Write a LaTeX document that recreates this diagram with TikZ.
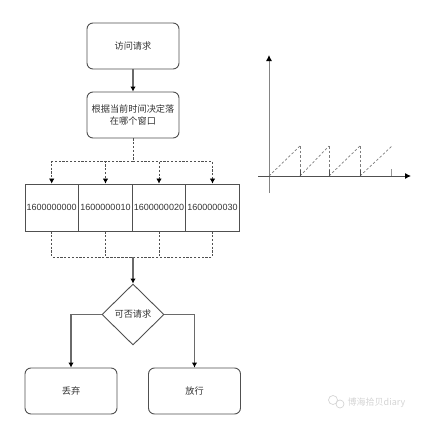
\documentclass[tikz,border=0pt]{standalone}
\usepackage{fontspec}
\setmainfont{Noto Sans CJK SC}
\newfontfamily\numfont{Liberation Sans}
\usetikzlibrary{arrows.meta,shapes.geometric}
\definecolor{ln}{HTML}{505050}
\definecolor{wm}{HTML}{D4D4D4}
\tikzset{
  base/.style={draw=ln,line width=0.9pt,font=\fontsize{9.2}{12}\selectfont,text=black!80,align=center,inner sep=0pt},
  roundbox/.style={base,rounded corners=6pt,minimum width=92pt,minimum height=46pt},
  winbox/.style={base,minimum width=53.5pt,minimum height=47pt,font=\numfont\fontsize{9}{11}\selectfont},
  decide/.style={base,diamond,minimum width=62pt,minimum height=61pt},
  arr/.style={draw=ln!85,line width=1.1pt,-{Latex[length=5pt,width=5.5pt,black]}},
  dashline/.style={draw=ln,line width=0.75pt,dash pattern=on 2.2pt off 1.6pt},
  dasharr/.style={dashline,-{Latex[length=5pt,width=5.5pt,black]}},
  axisline/.style={draw=ln,line width=0.9pt,-{Latex[length=6pt,width=6pt,black]}},
  tooth/.style={draw=ln!75,line width=0.7pt,dash pattern=on 2.5pt off 2pt},
  tickline/.style={draw=ln,line width=0.8pt}
}
\begin{document}
\begin{tikzpicture}[x=1pt,y=-1pt]
\useasboundingbox (0,0) rectangle (424,423);
\node[roundbox] (req) at (133,46) {访问请求};
\node[roundbox] (pick) at (133,115) {根据当前时间决定落\\在哪个窗口};
\node[winbox] (w0) at (51.7,207.5) {1600000000};
\node[winbox] (w1) at (105.5,207.5) {1600000010};
\node[winbox] (w2) at (159,207.5) {1600000020};
\node[winbox] (w3) at (212.5,207.5) {1600000030};
\node[decide] (can) at (133,314.5) {可否请求};
\node[roundbox] (drop) at (71,391) {丢弃};
\node[roundbox] (pass) at (194.5,391) {放行};
\coordinate (top) at (133,161.5);
\coordinate (bot) at (133,257);
\draw[arr] (req) -- (pick);
\draw[dashline] (pick) -- (top);
\foreach \w in {w0,w1,w2,w3} {
  \draw[dasharr] (top) -| (\w.north);
  \draw[dashline] (\w.south) |- (bot);
}
\draw[arr] (bot) -- (can.north);
\draw[arr] (can.west) -| (drop.north);
\draw[arr] (can.east) -| (pass.north);
% chart
\draw[axisline,draw=ln!70] (269,193) -- (269,55);
\draw[axisline] (258,176) -- (411,176);
\foreach \a/\b in {269/300,300/329,329/360,360/392} {
  \draw[tooth] (\a,176) -- (\b,146);
}
\foreach \b in {300,329,360} {
  \draw[tooth] (\b,146) -- (\b,176);
  \draw[tickline] (\b,170) -- (\b,176);
}
\draw[tickline,draw=ln!60] (391,169) -- (391,176);
% watermark
\draw[wm,line width=0.7pt] (333,400) circle (4.5pt);
\draw[wm,line width=0.7pt] (340,404) circle (4pt);
\node[text=wm,font=\fontsize{9}{11}\selectfont,inner sep=0pt,anchor=west] (mark) at (347.5,403) {博海拾贝diary};
\end{tikzpicture}
\end{document}
